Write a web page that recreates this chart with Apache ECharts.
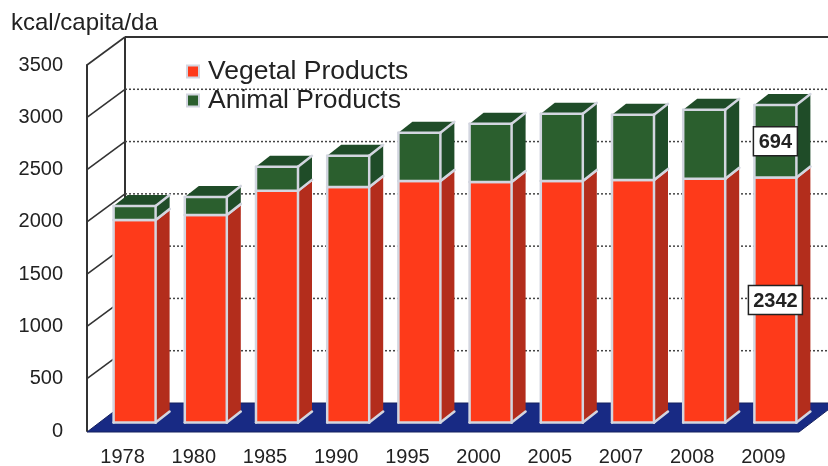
<!DOCTYPE html>
<html>
<head>
<meta charset="utf-8">
<style>html,body{margin:0;padding:0;background:#fff}#c{width:828px;height:466px}</style>
<script src="https://cdn.jsdelivr.net/npm/echarts@6/dist/echarts.min.js"></script>
</head>
<body>
<div id="c"></div>
<script>
// Daily food supply per person, split by origin of the calories
const years = ['1978','1980','1985','1990','1995','2000','2005','2007','2008','2009'];
const vegetal = [1937,1985,2215,2253,2310,2300,2310,2320,2330,2342];
const animal = [134,172,230,297,461,557,643,623,661,694];
const yTicks = [0,500,1000,1500,2000,2500,3000,3500];
const labelledYear = '2009';

// Pseudo-3D projection, in pixels
const WALL_DX = 38, WALL_DY = -28;     // front plane to back wall
const BAR_DX = 12, BAR_DY = -8.5;      // front plane to the bars' front faces
const DEPTH_DX = 14, DEPTH_DY = -11;   // depth of a bar
const BAR_W = 44;
const EDGE = '#d3d6e0';
const INK = '#222222';
const FONT = '"Liberation Sans", Arial, sans-serif';

function face(points, fill) {
  return { type: 'polygon', shape: { points }, style: { fill } };
}
function edge(x1, y1, x2, y2) {
  return { type: 'line', shape: { x1, y1, x2, y2 }, style: { stroke: EDGE, lineWidth: 2.5, lineCap: 'round' } };
}

// One segment of a bar: front face, side face and top face with light edges
function segmentRenderer(sideColor, topColor) {
  return function (params, api) {
    const i = api.value(0);
    const base = api.coord([i, api.value(1)]);
    const top = api.coord([i, api.value(2)]);
    const x0 = base[0] + BAR_DX - BAR_W / 2 + 1, x1 = x0 + BAR_W - 2;
    const yb = base[1] + BAR_DY, yt = top[1] + BAR_DY;
    const children = [
      face([[x1, yb], [x1 + DEPTH_DX, yb + DEPTH_DY], [x1 + DEPTH_DX, yt + DEPTH_DY], [x1, yt]], sideColor),
      face([[x0, yt], [x1, yt], [x1 + DEPTH_DX, yt + DEPTH_DY], [x0 + DEPTH_DX, yt + DEPTH_DY]], topColor),
      face([[x0, yb], [x1, yb], [x1, yt], [x0, yt]], api.visual('color')),
      edge(x1, yb, x1 + DEPTH_DX, yb + DEPTH_DY),
      edge(x1, yt, x1 + DEPTH_DX, yt + DEPTH_DY),
      edge(x0, yb, x0, yt),
      edge(x1, yb, x1, yt),
      edge(x0, yb, x1, yb),
      edge(x0, yt, x1, yt)
    ];
    if (years[i] === labelledYear) {
      const text = String(api.value(2) - api.value(1));
      const boxW = text.length > 3 ? 54 : 44;
      const cx = (x0 + x1) / 2, cy = (yb + yt) / 2;
      children.push({
        type: 'rect', z2: 5,
        shape: { x: cx - boxW / 2, y: cy - 14.5, width: boxW, height: 29 },
        style: { fill: '#ffffff', stroke: '#222222', lineWidth: 1.5 }
      });
      children.push({
        type: 'text', z2: 6, x: cx, y: cy + 1,
        style: { text, fill: INK, font: 'bold 20px ' + FONT, align: 'center', verticalAlign: 'middle' }
      });
    }
    return { type: 'group', children };
  };
}

// Back wall, floor, receding tick strokes and dotted gridlines
function renderFrame(params, api) {
  const v = api.value(1);
  const band = api.size([1, 0])[0];
  const left = api.coord([0, v])[0] - band / 2;
  const right = api.coord([years.length - 1, v])[0] + band / 2;
  const y = api.coord([0, v])[1];
  const bx = left + WALL_DX, by = y + WALL_DY;
  const ex = right + WALL_DX;
  const children = [];
  if (v === 0) {
    const topY = api.coord([0, yTicks[yTicks.length - 1]])[1] + WALL_DY;
    children.push({
      type: 'polygon',
      shape: { points: [[left, y + 1], [right, y + 1], [ex, by], [bx, by]] },
      style: { fill: '#182a84', stroke: '#14205f', lineWidth: 1 }
    });
    children.push({ type: 'line', shape: { x1: bx, y1: by, x2: bx, y2: topY }, style: { stroke: '#333333', lineWidth: 2 } });
  } else {
    children.push({ type: 'line', shape: { x1: left, y1: y, x2: bx, y2: by }, style: { stroke: '#333333', lineWidth: 1.6 } });
    const isTop = v === yTicks[yTicks.length - 1];
    children.push({
      type: 'line',
      shape: { x1: bx, y1: by, x2: ex, y2: by },
      style: isTop ? { stroke: '#333333', lineWidth: 2 } : { stroke: '#444444', lineWidth: 1.5, lineDash: [2, 2] }
    });
  }
  return { type: 'group', children };
}

const chart = echarts.init(document.getElementById('c'));
chart.setOption({
  animation: false,
  backgroundColor: '#ffffff',
  textStyle: { fontFamily: FONT },
  title: {
    text: 'kcal/capita/da', left: 6, top: 6,
    textStyle: { fontSize: 24, fontWeight: 'normal', color: INK, fontFamily: FONT }
  },
  legend: {
    data: ['Vegetal Products', 'Animal Products'],
    orient: 'vertical', left: 181, top: 52, itemGap: 0,
    itemWidth: 12, itemHeight: 12, icon: 'rect',
    textStyle: { fontSize: 26.5, color: INK, fontFamily: FONT, lineHeight: 29, padding: [0, 0, 0, 4] },
    selectedMode: false
  },
  grid: { left: 87, top: 65, width: 712, height: 366, outerBoundsMode: 'none' },
  xAxis: {
    type: 'category', data: years,
    axisLine: { show: false }, axisTick: { show: false },
    axisLabel: { fontSize: 20, color: INK, margin: 16, fontFamily: FONT }
  },
  yAxis: {
    type: 'value', min: 0, max: 3500, interval: 500,
    axisLine: { show: true, lineStyle: { color: '#333333', width: 2 } },
    axisTick: { show: false }, splitLine: { show: false },
    axisLabel: { fontSize: 20, color: INK, margin: 24, fontFamily: FONT, formatter: v => String(v) }
  },
  series: [
    {
      type: 'custom', name: 'frame', z: 1, silent: true,
      renderItem: renderFrame, encode: { x: 0, y: 1 },
      data: yTicks.map(t => [0, t])
    },
    {
      type: 'custom', name: 'Vegetal Products', z: 2,
      itemStyle: { color: '#fe3a1a', borderColor: EDGE, borderWidth: 2 },
      renderItem: segmentRenderer('#b32d1c', '#b32d1c'), encode: { x: 0, y: [1, 2] },
      data: vegetal.map((v, i) => [i, 0, v])
    },
    {
      type: 'custom', name: 'Animal Products', z: 3,
      itemStyle: { color: '#2b5f2e', borderColor: EDGE, borderWidth: 2 },
      renderItem: segmentRenderer('#1f4c28', '#1f4c28'), encode: { x: 0, y: [1, 2] },
      data: animal.map((v, i) => [i, vegetal[i], vegetal[i] + v])
    }
  ]
});
</script>
</body>
</html>
